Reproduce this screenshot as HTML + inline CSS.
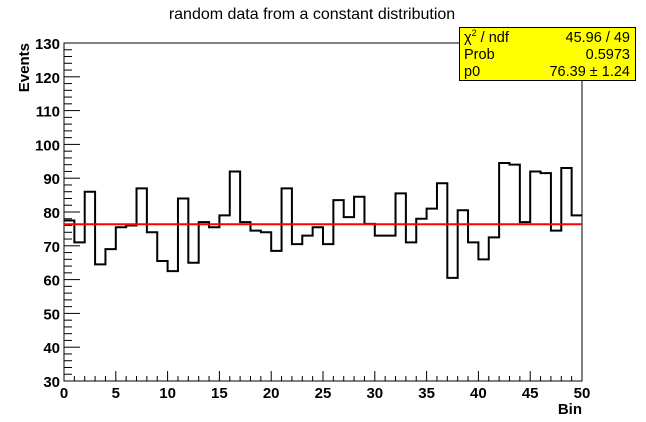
<!DOCTYPE html>
<html><head><meta charset="utf-8"><style>
body{margin:0;background:#fff;}
svg{display:block;font-family:"Liberation Sans",sans-serif;}
</style></head><body>
<svg id="c" width="646" height="422">
<text x="312" y="19" font-size="16" text-anchor="middle">random data from a constant distribution</text>
<g id="ax"></g>
<g id="marks"></g>
<g>
<rect x="459.5" y="27.5" width="176" height="53" fill="#ffff00" stroke="#000" stroke-width="1"/>
<text x="464" y="42" font-size="14.5">χ<tspan font-size="9" dy="-6">2</tspan><tspan dy="6"> / ndf</tspan></text>
<text x="630" y="42" font-size="14.5" text-anchor="end">45.96 / 49</text>
<text x="464" y="59" font-size="14.5">Prob</text>
<text x="630" y="59" font-size="14.5" text-anchor="end">0.5973</text>
<text x="464" y="76" font-size="14.5">p0</text>
<text x="630" y="76" font-size="14.5" text-anchor="end">76.39 ± 1.24</text>
</g>
</svg>
<script>
const values=[77.5,71,86,64.5,69,75.5,76,87,74,65.5,62.5,84,65,77,75.5,79,92,77,74.5,74,68.5,87,70.5,73,75.5,70.5,83.5,78.5,84.5,76.5,73,73,85.5,71,78,81,88.5,60.5,80.5,71,66,72.5,94.5,94,77,92,91.5,74.5,93,79];
const fitValue=76.39;
const yTicks=[30,40,50,60,70,80,90,100,110,120,130];
const xTicks=[0,5,10,15,20,25,30,35,40,45,50];
const L=64,R=582,T=43,B=381;
const X=v=>L+(v/50)*(R-L);
const Y=v=>B-(v-30)/100*(B-T);
const ns="http://www.w3.org/2000/svg";
function mk(t,a,p){const e=document.createElementNS(ns,t);for(const k in a)e.setAttribute(k,a[k]);p.appendChild(e);return e;}
const ax=document.getElementById('ax'),mg=document.getElementById('marks');
const fr=mk('rect',{x:L,y:T,width:R-L,height:B-T,fill:'none',stroke:'#000','stroke-width':1},ax);


for(let v=30;v<=130;v+=2){const big=v%10===0;mk('line',{x1:L,x2:L+(big?16:8),y1:Y(v),y2:Y(v),stroke:'#000'},ax);}
yTicks.forEach(v=>{const t=mk('text',{x:L-4,y:Y(v)+6,'font-size':15,'font-weight':'bold','text-anchor':'end'},ax);t.textContent=v;

});
for(let v=0;v<=50;v++){const big=v%5===0;mk('line',{x1:X(v),x2:X(v),y1:B,y2:B-(big?10:5),stroke:'#000'},ax);}
xTicks.forEach(v=>{const t=mk('text',{x:X(v),y:B+17,'font-size':15,'font-weight':'bold','text-anchor':'middle'},ax);t.textContent=v;

});
const xt=mk('text',{x:R,y:414,'font-size':15,'font-weight':'bold','text-anchor':'end'},ax);xt.textContent='Bin';


const yt=mk('text',{x:0,y:0,'font-size':15,'font-weight':'bold','text-anchor':'end',transform:`translate(29,${T}) rotate(-90)`},ax);yt.textContent='Events';


let d=`M${X(0)},${Y(values[0])}`;
values.forEach((v,i)=>{d+=` L${X(i)},${Y(v)} L${X(i+1)},${Y(v)}`;});
const h=mk('path',{d:d,fill:'none',stroke:'#000','stroke-width':2},mg);


const f=mk('line',{x1:X(0),x2:X(50),y1:Y(fitValue),y2:Y(fitValue),stroke:'#ff0000','stroke-width':2},mg);


</script>
</body></html>
